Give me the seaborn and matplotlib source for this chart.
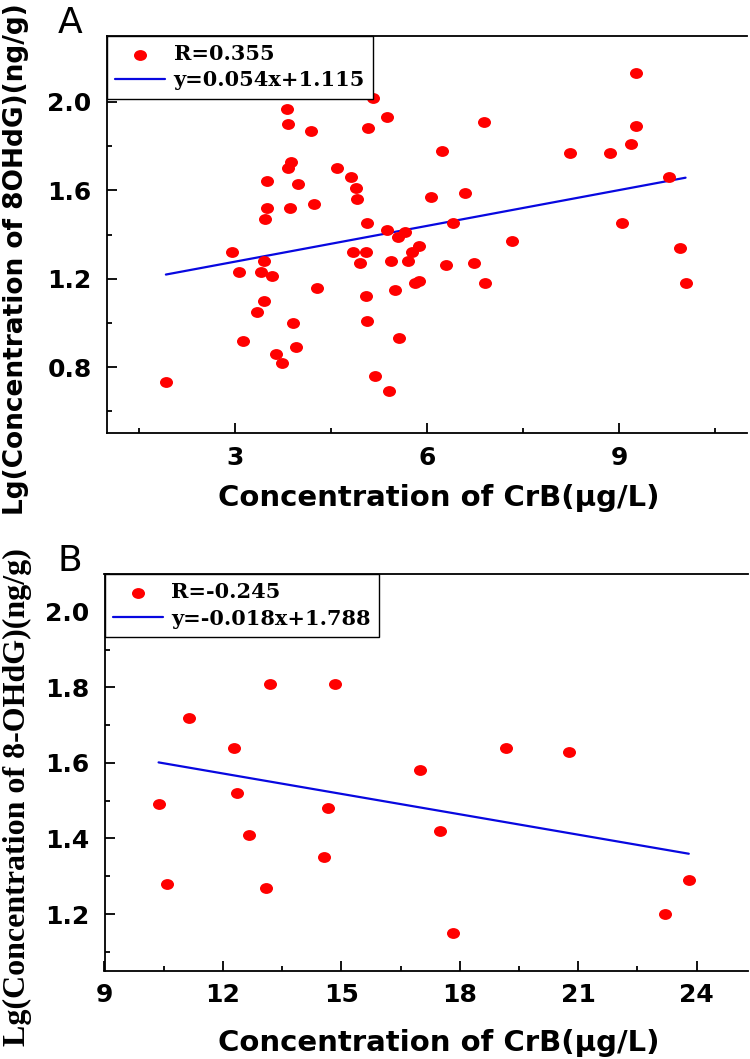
import numpy as np
import pandas as pd
import seaborn as sns
import matplotlib.pyplot as plt
from matplotlib.path import Path
from matplotlib.transforms import Affine2D
from matplotlib.ticker import MultipleLocator, FormatStrFormatter

# Panel A: CrB (ug/L) vs Lg(8OHdG)
crb_a = [3.81, 3.83, 4.19, 5.16, 5.08, 5.38, 3.88, 3.83, 4.59, 4.81,
         4.89, 4.91, 3.50, 3.98, 3.50, 3.86, 4.24, 3.47, 5.07, 5.38,
         6.89, 9.27, 9.26, 9.19, 8.24, 8.86, 6.24, 6.07, 6.60, 9.78,
         5.65, 6.41, 9.04, 5.55, 2.95, 3.06, 3.46, 3.41, 3.58, 4.84,
         5.04, 4.95, 5.43, 5.70, 5.77, 5.88, 5.82, 5.88, 4.28, 5.50,
         5.04, 3.46, 3.34, 3.91, 5.06, 3.13, 3.96, 3.64, 3.73, 5.56,
         5.18, 5.40, 1.92, 7.33, 6.29, 6.74, 6.90, 9.96, 10.04]
lg_a = [1.97, 1.90, 1.87, 2.02, 1.88, 1.93, 1.73, 1.70, 1.70, 1.66,
        1.61, 1.56, 1.64, 1.63, 1.52, 1.52, 1.54, 1.47, 1.45, 1.42,
        1.91, 2.13, 1.89, 1.81, 1.77, 1.77, 1.78, 1.57, 1.59, 1.66,
        1.41, 1.45, 1.45, 1.39, 1.32, 1.23, 1.28, 1.23, 1.21, 1.32,
        1.32, 1.27, 1.28, 1.28, 1.32, 1.35, 1.18, 1.19, 1.16, 1.15,
        1.12, 1.10, 1.05, 1.00, 1.01, 0.92, 0.89, 0.86, 0.82, 0.93,
        0.76, 0.69, 0.73, 1.37, 1.26, 1.27, 1.18, 1.34, 1.18]
r_a, slope_a, icpt_a = 0.355, 0.054, 1.115

# Panel B: CrB (ug/L) vs Lg(8-OHdG)
crb_b = [11.14, 12.29, 13.19, 14.84, 19.16, 20.77, 16.99, 12.36, 10.37,
         14.65, 12.65, 14.56, 10.59, 13.08, 17.51, 17.82, 23.80, 23.19]
lg_b = [1.72, 1.64, 1.81, 1.81, 1.64, 1.63, 1.58, 1.52, 1.49,
        1.48, 1.41, 1.35, 1.28, 1.27, 1.42, 1.15, 1.29, 1.20]
r_b, slope_b, icpt_b = -0.245, -0.018, 1.788

xlab = "Concentration of CrB(\u03bcg/L)"
ylab_a = "Lg(Concentration of 8OHdG)(ng/g)"
ylab_b = "Lg(Concentration of 8-OHdG)(ng/g)"

sns.set_style("ticks")
plt.rcParams['font.family'] = ['DejaVu Sans']
plt.rcParams['text.color'] = 'black'

# slightly wide dots like the original
ellipse = Path.unit_circle().transformed(Affine2D().scale(1.2, 1.0))

W, H = 750, 1059
fig = plt.figure(figsize=(W / 100, H / 100), dpi=100)


def px_axes(left, top, right, bottom):
    return fig.add_axes([left / W, 1 - bottom / H, (right - left) / W, (bottom - top) / H])


def panel(ax, x, y, r, slope, icpt, xlim, ylim, xmaj, ymaj):
    df = pd.DataFrame({"x": x, "y": y})
    sns.scatterplot(data=df, x="x", y="y", ax=ax, color="#ff0000", marker=ellipse,
                    s=88, linewidth=0, label=f"R={r}", zorder=3)
    xfit = np.array([min(x), max(x)])
    sgn = "+" if icpt >= 0 else "-"
    sns.lineplot(x=xfit, y=slope * xfit + icpt, ax=ax, color="#0808e0", lw=1.6,
                 label=f"y={slope}x{sgn}{abs(icpt)}", zorder=2)
    ax.set_xlim(*xlim)
    ax.set_ylim(*ylim)
    ax.set_xlabel("")
    ax.set_ylabel("")
    ax.xaxis.set_major_locator(MultipleLocator(xmaj))
    ax.xaxis.set_minor_locator(MultipleLocator(xmaj / 2))
    ax.yaxis.set_major_locator(MultipleLocator(ymaj))
    ax.yaxis.set_minor_locator(MultipleLocator(ymaj / 2))
    ax.xaxis.set_major_formatter(FormatStrFormatter("%d"))
    ax.yaxis.set_major_formatter(FormatStrFormatter("%.1f"))
    ax.tick_params(which="both", direction="in", width=1.3, colors="black")
    ax.tick_params(which="major", length=7)
    ax.tick_params(which="minor", length=3.5)
    ax.tick_params(axis="x", pad=9)
    ax.tick_params(axis="y", pad=11)
    for lab in ax.get_xticklabels() + ax.get_yticklabels():
        lab.set_fontsize(18)
        lab.set_fontweight("bold")
    for side in ["left", "bottom", "top"]:
        ax.spines[side].set_linewidth(1.3)
        ax.spines[side].set_color("black")
    ax.spines["right"].set_visible(False)
    leg = ax.legend(loc="upper left", borderaxespad=0, fancybox=False, frameon=True,
                    framealpha=1, edgecolor="black", handlelength=2.4, handletextpad=0.4,
                    borderpad=0.4, labelspacing=0.3,
                    prop={"family": "DejaVu Serif", "weight": "bold", "size": 15})
    leg.get_frame().set_linewidth(1.0)
    for t in leg.get_texts():
        t.set_color("black")


ax_a = px_axes(107, 35.7, 747, 433.3)
panel(ax_a, crb_a, lg_a, r_a, slope_a, icpt_a, (1, 11), (0.5, 2.3), 3, 0.4)

ax_b = px_axes(104.5, 574, 748, 970.7)
panel(ax_b, crb_b, lg_b, r_b, slope_b, icpt_b, (9, 25.3), (1.05, 2.1), 3, 0.2)

# axis titles and panel letters
fig.text(439 / W, 1 - 498 / H, xlab, ha="center", va="center", fontsize=21, fontweight="bold")
fig.text(439 / W, 1 - 1043 / H, xlab, ha="center", va="center", fontsize=21, fontweight="bold")
fig.text(16 / W, 1 - 259 / H, ylab_a, rotation=90, ha="center", va="center",
         fontsize=19, fontweight="bold")
fig.text(17.5 / W, 1 - 797 / H, ylab_b, rotation=90, ha="center", va="center",
         fontsize=23, fontweight="bold", family="Liberation Serif")
fig.text(70 / W, 1 - 23 / H, "A", ha="center", va="center", fontsize=26)
fig.text(70 / W, 1 - 561 / H, "B", ha="center", va="center", fontsize=26)

fig.savefig("out.png", dpi=100)
